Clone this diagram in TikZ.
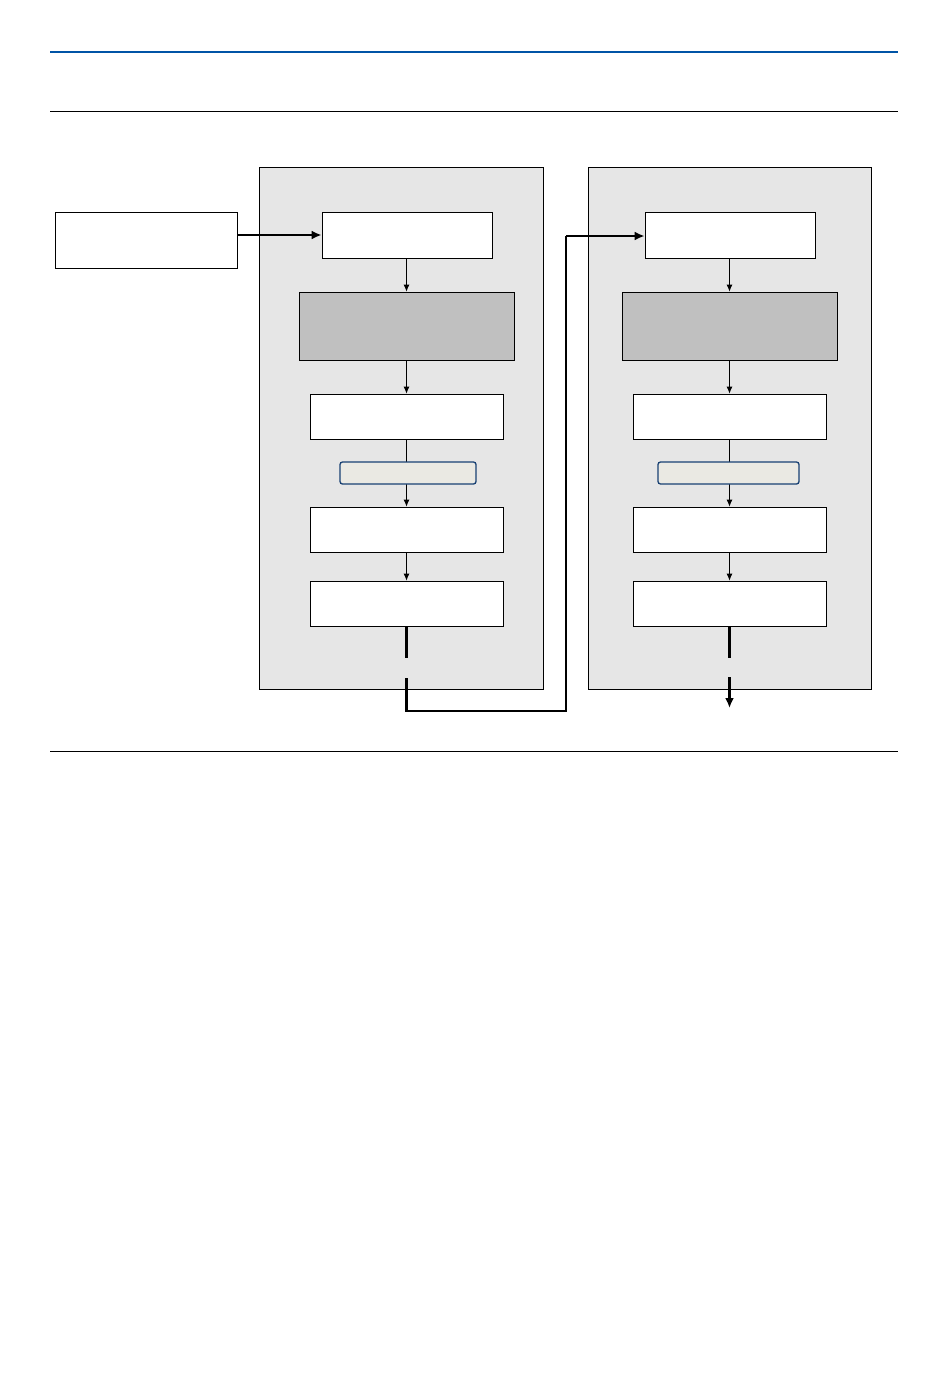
\documentclass[tikz,border=0pt]{standalone}
\usetikzlibrary{arrows.meta}
\definecolor{rulebl}{RGB}{0,84,166}
\definecolor{panelgray}{RGB}{230,230,230}
\definecolor{darkbox}{RGB}{192,192,192}
\definecolor{tagfill}{RGB}{234,233,227}
\definecolor{tagborder}{RGB}{25,65,115}
\tikzset{
  panel/.style={draw=black, fill=panelgray, line width=0.8pt, rectangle, inner sep=0pt},
  wbox/.style={draw=black, fill=white, line width=0.8pt, rectangle, inner sep=0pt},
  gbox/.style={draw=black, fill=darkbox, line width=0.8pt, rectangle, inner sep=0pt},
  tagbox/.style={draw=tagborder, fill=tagfill, line width=1.3pt, rectangle, rounded corners=2.5pt, inner sep=0pt},
  thinarrow/.style={line width=0.8pt, -{Latex[length=7pt,width=6pt]}},
  thickline/.style={line width=2.2pt},
  thickarrow/.style={line width=2.2pt, -{Latex[length=10pt,width=9pt]}},
}
\begin{document}
\begin{tikzpicture}[x=1pt,y=-1pt]
\useasboundingbox (0,0) rectangle (950,1397);
\fill[white] (0,0) rectangle (950,1397);
% page rules
\draw[rulebl, line width=1.4pt] (50,52) -- (898,52);
\draw[black, line width=1pt] (50,111) -- (898,111);
\draw[black, line width=1pt] (50,751) -- (898,751);
% panels
\node[panel, minimum width=284pt, minimum height=522pt] (p1) at (401,428) {};
\node[panel, minimum width=283pt, minimum height=522pt] (p2) at (729.5,428) {};
% input
\node[wbox, minimum width=182pt, minimum height=56pt] (in) at (146,240) {};
% panel 1 boxes
\node[wbox, minimum width=170pt, minimum height=46pt] (a1) at (407,235) {};
\node[gbox, minimum width=215pt, minimum height=68pt] (b1) at (406.5,326) {};
\node[wbox, minimum width=193pt, minimum height=45pt] (c1) at (406.5,416.5) {};
\node[wbox, minimum width=193pt, minimum height=45pt] (d1) at (406.5,529.5) {};
\node[wbox, minimum width=193pt, minimum height=45pt] (e1) at (406.5,603.5) {};
% panel 2 boxes
\node[wbox, minimum width=170pt, minimum height=46pt] (a2) at (730,235) {};
\node[gbox, minimum width=215pt, minimum height=68pt] (b2) at (729.5,326) {};
\node[wbox, minimum width=193pt, minimum height=45pt] (c2) at (729.5,416.5) {};
\node[wbox, minimum width=193pt, minimum height=45pt] (d2) at (729.5,529.5) {};
\node[wbox, minimum width=193pt, minimum height=45pt] (e2) at (729.5,603.5) {};
% connectors panel 1
\draw[thinarrow] (a1.south -| b1.north) -- (b1.north);
\draw[thinarrow] (b1.south) -- (c1.north);
\draw[thinarrow] (c1.south) -- (d1.north);
\draw[thinarrow] (d1.south) -- (e1.north);
% connectors panel 2
\draw[thinarrow] (a2.south -| b2.north) -- (b2.north);
\draw[thinarrow] (b2.south) -- (c2.north);
\draw[thinarrow] (c2.south) -- (d2.north);
\draw[thinarrow] (d2.south) -- (e2.north);
% tags over the lines
\node[tagbox, minimum width=136pt, minimum height=22pt] (t1) at (408,473) {};
\node[tagbox, minimum width=141pt, minimum height=22pt] (t2) at (728.5,473) {};
% input arrow
\draw[thickarrow] (in.east |- a1.west) -- (a1.west);
% link from panel 1 to panel 2
\coordinate (g1a) at (406.5,658);
\coordinate (g1b) at (406.5,678);
\coordinate (turn1) at (406.5,711);
\coordinate (turn2) at (566,711);
\coordinate (turn3) at (566,236);
\draw[thickline] (e1.south) -- (g1a);
\draw[thickline, line join=miter] (g1b) -- (turn1) -- (turn2) -- (turn3);
\draw[thickarrow] (turn3) -- (a2.west |- turn3);
% output
\coordinate (g2a) at (729.5,658);
\coordinate (g2b) at (729.5,677);
\coordinate (out) at (729.5,708);
\draw[thickline] (e2.south) -- (g2a);
\draw[thickarrow] (g2b) -- (out);
\end{tikzpicture}
\end{document}
